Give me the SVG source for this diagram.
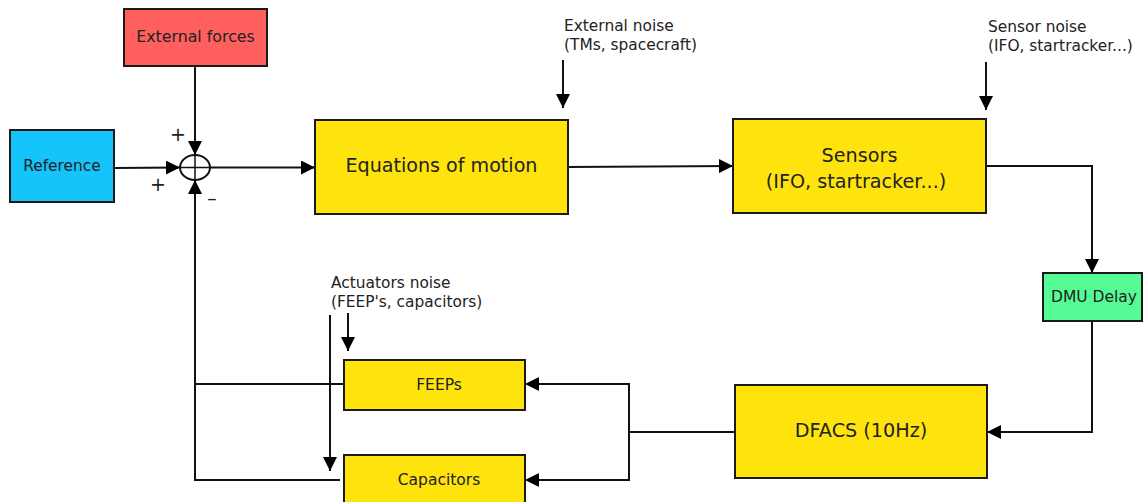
<svg xmlns="http://www.w3.org/2000/svg" width="1147" height="502" viewBox="0 0 1147 502">
<defs>
<marker id="ahL" viewBox="0 0 14 14" refX="14" refY="7" markerWidth="14" markerHeight="14" markerUnits="userSpaceOnUse" orient="auto"><path d="M0,0 L14,7 L0,14 Z" fill="#000"/></marker>
<style>
.box{stroke:#1a1a1a;stroke-width:2}
.y{fill:#ffe30c}
text{font-family:"DejaVu Sans","Liberation Sans",sans-serif;fill:#222}
.c{text-anchor:middle}
.ln{fill:none;stroke:#111;stroke-width:2}
.n{font-size:15.4px}
</style>
</defs>
<g id="connectors">
<path class="ln" d="M195,66 V155" marker-end="url(#ahL)"/>
<path class="ln" d="M114,168 L180,167.5" marker-end="url(#ahL)"/>
<path class="ln" d="M210,167.5 H315" marker-end="url(#ahL)"/>
<path class="ln" d="M568,167 L733,166" marker-end="url(#ahL)"/>
<path class="ln" d="M986,166 H1092 V273" marker-end="url(#ahL)"/>
<path class="ln" d="M1092,321 V432 H987" marker-end="url(#ahL)"/>
<path class="ln" d="M735,432 H629"/>
<path class="ln" d="M629,480 V384 H525" marker-end="url(#ahL)"/>
<path class="ln" d="M629,470 V480 H525" marker-end="url(#ahL)"/>
<path class="ln" d="M344,384 H195 V180" marker-end="url(#ahL)"/>
<path class="ln" d="M340,480 H195 V383"/>
<path class="ln" d="M563,60 V108" marker-end="url(#ahL)"/>
<path class="ln" d="M986,62 V110" marker-end="url(#ahL)"/>
<path class="ln" d="M348,313 V351" marker-end="url(#ahL)"/>
<path class="ln" d="M330,315 V471" marker-end="url(#ahL)"/>
</g>
<g id="sum">
<ellipse cx="195" cy="167.5" rx="15" ry="12.5" fill="#fff" stroke="#111" stroke-width="2"/>
<path d="M180,167.5 H210 M195,155 V180" stroke="#111" stroke-width="1.5"/>
<text x="178" y="141" class="c" font-size="19">+</text>
<text x="158" y="191" class="c" font-size="19">+</text>
<text x="212" y="205" class="c" font-size="19">–</text>
</g>
<g id="external-forces"><rect class="box" x="124" y="9" width="143" height="57" fill="#ff5f5f"/><text x="195.5" y="42" class="c" font-size="15.8">External forces</text></g>
<g id="reference"><rect class="box" x="10" y="130" width="104" height="72" fill="#14c4fb"/><text x="62" y="171" class="c" font-size="15.4">Reference</text></g>
<g id="equations-of-motion"><rect class="box y" x="315" y="120" width="253" height="94"/><text x="441.5" y="172" class="c" font-size="19.1">Equations of motion</text></g>
<g id="sensors"><rect class="box y" x="733" y="119" width="253" height="94"/><text x="859.5" y="162" class="c" font-size="19.2">Sensors</text><text x="856" y="188" class="c" font-size="19.2">(IFO, startracker...)</text></g>
<g id="dmu-delay"><rect class="box" x="1043" y="273" width="99" height="48" fill="#55fc95"/><text x="1094" y="302" class="c" font-size="15.5">DMU Delay</text></g>
<g id="dfacs"><rect class="box y" x="735" y="385" width="252" height="93"/><text x="861" y="437" class="c" font-size="19.2">DFACS (10Hz)</text></g>
<g id="feeps"><rect class="box y" x="344" y="360" width="181" height="50"/><text x="439" y="390" class="c" font-size="15.5">FEEPs</text></g>
<g id="capacitors"><rect class="box y" x="344" y="455" width="181" height="52"/><text x="439" y="485" class="c" font-size="15.5">Capacitors</text></g>
<g id="external-noise"><text x="564" y="31" class="n">External noise</text><text x="564" y="50" class="n">(TMs, spacecraft)</text></g>
<g id="sensor-noise"><text x="988" y="32" class="n">Sensor noise</text><text x="988" y="51" class="n">(IFO, startracker...)</text></g>
<g id="actuators-noise"><text x="331" y="288" class="n">Actuators noise</text><text x="331" y="307" class="n">(FEEP's, capacitors)</text></g>
</svg>
